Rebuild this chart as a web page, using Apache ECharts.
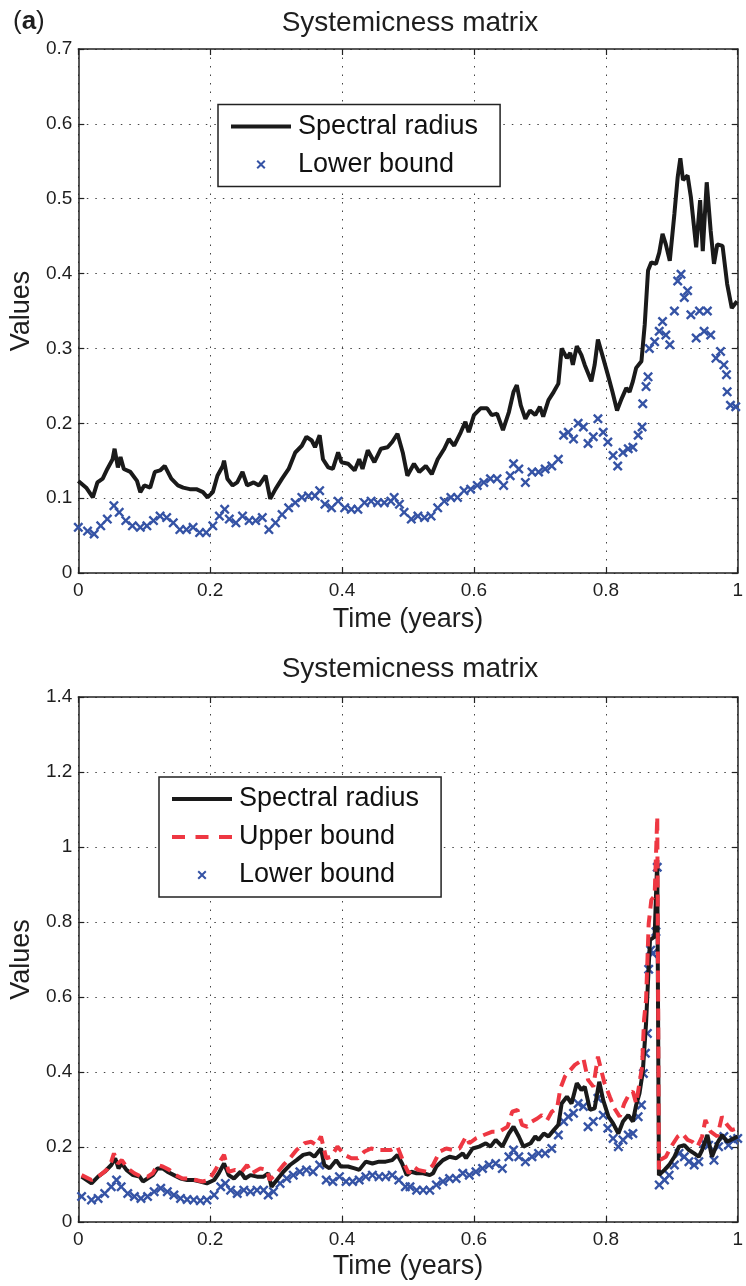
<!DOCTYPE html>
<html>
<head>
<meta charset="utf-8">
<script src="https://cdn.jsdelivr.net/npm/echarts@6/dist/echarts.min.js"></script>
<style>
html,body{margin:0;padding:0;background:#fff;}
#chart{width:746px;height:1286px;}
</style>
</head>
<body>
<div id="chart"></div>
<script>
// ---------------- DATA (time in years, value) ----------------
const xTicks = [0, 0.2, 0.4, 0.6, 0.8, 1];
const topYTicks = [0, 0.1, 0.2, 0.3, 0.4, 0.5, 0.6, 0.7];
const bottomYTicks = [0, 0.2, 0.4, 0.6, 0.8, 1, 1.2, 1.4];

const topSpectral = [[0,0.123],[0.012,0.114],[0.022,0.101],[0.029,0.121],[0.037,0.126],[0.044,0.139],[0.052,0.152],[0.055,0.166],[0.06,0.141],[0.064,0.155],[0.069,0.139],[0.079,0.135],[0.089,0.123],[0.094,0.108],[0.1,0.117],[0.109,0.114],[0.116,0.135],[0.124,0.137],[0.131,0.143],[0.141,0.126],[0.151,0.117],[0.159,0.114],[0.169,0.112],[0.179,0.112],[0.189,0.108],[0.196,0.101],[0.204,0.108],[0.211,0.13],[0.219,0.143],[0.221,0.15],[0.226,0.126],[0.234,0.117],[0.241,0.121],[0.249,0.135],[0.256,0.117],[0.266,0.121],[0.274,0.117],[0.284,0.13],[0.291,0.099],[0.299,0.112],[0.309,0.126],[0.319,0.139],[0.329,0.161],[0.339,0.17],[0.346,0.182],[0.354,0.177],[0.359,0.168],[0.366,0.184],[0.371,0.152],[0.379,0.141],[0.386,0.139],[0.394,0.161],[0.399,0.148],[0.409,0.146],[0.419,0.137],[0.426,0.152],[0.431,0.139],[0.439,0.164],[0.449,0.148],[0.459,0.166],[0.469,0.168],[0.476,0.175],[0.484,0.186],[0.492,0.161],[0.499,0.13],[0.509,0.146],[0.517,0.135],[0.527,0.143],[0.536,0.132],[0.545,0.152],[0.555,0.166],[0.562,0.179],[0.57,0.17],[0.58,0.188],[0.587,0.202],[0.592,0.188],[0.6,0.211],[0.61,0.22],[0.62,0.22],[0.627,0.211],[0.635,0.213],[0.644,0.191],[0.653,0.215],[0.66,0.242],[0.665,0.251],[0.671,0.224],[0.678,0.206],[0.685,0.217],[0.693,0.211],[0.7,0.222],[0.705,0.209],[0.713,0.231],[0.721,0.242],[0.728,0.253],[0.733,0.3],[0.741,0.287],[0.746,0.294],[0.75,0.278],[0.756,0.303],[0.763,0.291],[0.768,0.278],[0.778,0.256],[0.783,0.278],[0.788,0.312],[0.796,0.287],[0.803,0.265],[0.81,0.242],[0.817,0.217],[0.824,0.233],[0.831,0.247],[0.836,0.242],[0.841,0.256],[0.846,0.274],[0.854,0.283],[0.859,0.332],[0.864,0.404],[0.869,0.415],[0.876,0.413],[0.881,0.428],[0.886,0.453],[0.891,0.439],[0.897,0.417],[0.904,0.48],[0.909,0.529],[0.913,0.554],[0.917,0.525],[0.924,0.531],[0.929,0.502],[0.937,0.435],[0.943,0.498],[0.947,0.43],[0.953,0.522],[0.959,0.457],[0.964,0.413],[0.969,0.439],[0.977,0.437],[0.984,0.386],[0.991,0.354],[0.999,0.363]];

const topLower = [[0,0.061],[0.014,0.056],[0.024,0.052],[0.034,0.063],[0.044,0.072],[0.054,0.09],[0.062,0.081],[0.072,0.07],[0.082,0.063],[0.094,0.061],[0.104,0.063],[0.114,0.07],[0.124,0.076],[0.134,0.074],[0.144,0.067],[0.154,0.058],[0.164,0.058],[0.174,0.061],[0.184,0.054],[0.194,0.054],[0.204,0.063],[0.214,0.076],[0.222,0.085],[0.229,0.072],[0.239,0.067],[0.249,0.076],[0.259,0.07],[0.269,0.07],[0.279,0.074],[0.289,0.058],[0.299,0.067],[0.309,0.078],[0.319,0.087],[0.329,0.094],[0.339,0.101],[0.349,0.103],[0.359,0.103],[0.366,0.11],[0.374,0.092],[0.384,0.087],[0.394,0.096],[0.404,0.087],[0.414,0.085],[0.424,0.085],[0.434,0.094],[0.444,0.096],[0.454,0.094],[0.464,0.094],[0.474,0.096],[0.479,0.101],[0.487,0.092],[0.494,0.081],[0.505,0.072],[0.515,0.076],[0.525,0.074],[0.535,0.076],[0.545,0.087],[0.555,0.096],[0.565,0.101],[0.575,0.101],[0.585,0.11],[0.595,0.112],[0.605,0.117],[0.615,0.121],[0.625,0.126],[0.635,0.126],[0.645,0.117],[0.655,0.13],[0.66,0.146],[0.668,0.139],[0.678,0.121],[0.688,0.135],[0.698,0.135],[0.708,0.139],[0.718,0.143],[0.728,0.152],[0.736,0.184],[0.743,0.188],[0.751,0.179],[0.758,0.2],[0.766,0.195],[0.773,0.173],[0.781,0.182],[0.788,0.206],[0.796,0.188],[0.803,0.175],[0.811,0.157],[0.818,0.143],[0.826,0.161],[0.834,0.166],[0.841,0.168],[0.849,0.184],[0.855,0.195],[0.856,0.226],[0.861,0.249],[0.864,0.262],[0.866,0.3],[0.874,0.309],[0.881,0.323],[0.886,0.336],[0.891,0.318],[0.897,0.305],[0.904,0.35],[0.909,0.39],[0.914,0.399],[0.919,0.368],[0.924,0.377],[0.929,0.345],[0.937,0.314],[0.942,0.35],[0.949,0.323],[0.954,0.35],[0.959,0.318],[0.967,0.287],[0.974,0.296],[0.979,0.278],[0.983,0.265],[0.984,0.242],[0.989,0.224],[0.997,0.222]];

const bottomSpectral = [[0.005,0.121],[0.02,0.103],[0.03,0.121],[0.04,0.134],[0.05,0.152],[0.056,0.17],[0.061,0.143],[0.066,0.156],[0.073,0.139],[0.083,0.125],[0.093,0.121],[0.098,0.108],[0.105,0.116],[0.113,0.125],[0.12,0.143],[0.128,0.143],[0.135,0.134],[0.145,0.125],[0.155,0.116],[0.165,0.112],[0.175,0.112],[0.185,0.108],[0.195,0.103],[0.206,0.112],[0.213,0.13],[0.221,0.156],[0.228,0.125],[0.236,0.116],[0.246,0.134],[0.253,0.116],[0.261,0.125],[0.271,0.121],[0.281,0.121],[0.288,0.13],[0.293,0.094],[0.301,0.112],[0.311,0.134],[0.321,0.152],[0.331,0.165],[0.341,0.179],[0.351,0.183],[0.358,0.174],[0.368,0.196],[0.373,0.152],[0.381,0.143],[0.391,0.165],[0.398,0.148],[0.409,0.148],[0.419,0.143],[0.426,0.139],[0.436,0.161],[0.446,0.156],[0.456,0.161],[0.466,0.161],[0.476,0.165],[0.484,0.179],[0.491,0.156],[0.498,0.125],[0.505,0.134],[0.513,0.13],[0.523,0.13],[0.533,0.125],[0.538,0.13],[0.543,0.148],[0.553,0.165],[0.563,0.174],[0.573,0.17],[0.583,0.183],[0.588,0.17],[0.598,0.196],[0.608,0.201],[0.618,0.21],[0.625,0.201],[0.633,0.219],[0.643,0.201],[0.653,0.236],[0.66,0.254],[0.668,0.228],[0.675,0.201],[0.686,0.21],[0.693,0.228],[0.698,0.219],[0.706,0.236],[0.713,0.228],[0.721,0.245],[0.728,0.259],[0.733,0.316],[0.741,0.334],[0.748,0.316],[0.756,0.37],[0.763,0.352],[0.768,0.361],[0.776,0.299],[0.783,0.303],[0.79,0.374],[0.796,0.325],[0.804,0.281],[0.811,0.263],[0.819,0.236],[0.826,0.268],[0.834,0.285],[0.841,0.268],[0.846,0.312],[0.851,0.343],[0.856,0.40],[0.861,0.53],[0.865,0.681],[0.867,0.752],[0.874,0.761],[0.876,0.868],[0.878,0.965],[0.8805,0.125],[0.889,0.139],[0.896,0.152],[0.904,0.174],[0.911,0.201],[0.919,0.205],[0.926,0.192],[0.934,0.183],[0.941,0.174],[0.946,0.192],[0.954,0.232],[0.961,0.174],[0.969,0.21],[0.976,0.232],[0.984,0.214],[0.994,0.223],[1.0,0.228]];

const bottomUpper = [[0.005,0.125],[0.02,0.112],[0.033,0.125],[0.043,0.139],[0.05,0.161],[0.054,0.183],[0.06,0.156],[0.066,0.165],[0.075,0.143],[0.085,0.13],[0.095,0.121],[0.105,0.121],[0.113,0.13],[0.12,0.152],[0.128,0.148],[0.138,0.139],[0.148,0.125],[0.158,0.116],[0.168,0.116],[0.178,0.112],[0.188,0.108],[0.198,0.112],[0.208,0.139],[0.216,0.165],[0.221,0.179],[0.228,0.134],[0.238,0.139],[0.248,0.134],[0.256,0.152],[0.263,0.13],[0.276,0.143],[0.286,0.139],[0.29,0.112],[0.301,0.13],[0.311,0.152],[0.321,0.17],[0.331,0.192],[0.343,0.21],[0.353,0.214],[0.361,0.205],[0.368,0.228],[0.376,0.17],[0.383,0.174],[0.393,0.201],[0.404,0.179],[0.414,0.17],[0.424,0.17],[0.434,0.188],[0.444,0.196],[0.454,0.192],[0.464,0.192],[0.474,0.192],[0.484,0.201],[0.494,0.156],[0.501,0.13],[0.508,0.148],[0.515,0.139],[0.528,0.134],[0.538,0.152],[0.548,0.188],[0.558,0.196],[0.568,0.192],[0.578,0.196],[0.588,0.228],[0.593,0.21],[0.603,0.223],[0.615,0.232],[0.628,0.241],[0.638,0.241],[0.651,0.254],[0.658,0.294],[0.666,0.299],[0.673,0.259],[0.681,0.254],[0.688,0.268],[0.696,0.276],[0.703,0.285],[0.711,0.272],[0.718,0.294],[0.726,0.303],[0.731,0.356],[0.738,0.388],[0.746,0.405],[0.753,0.419],[0.761,0.428],[0.766,0.436],[0.773,0.379],[0.781,0.361],[0.788,0.441],[0.793,0.405],[0.798,0.37],[0.806,0.334],[0.813,0.303],[0.821,0.281],[0.828,0.316],[0.836,0.343],[0.841,0.348],[0.846,0.316],[0.851,0.37],[0.855,0.414],[0.858,0.54],[0.861,0.592],[0.865,0.796],[0.869,0.859],[0.874,0.87],[0.878,1.081],[0.8805,0.14],[0.882,0.165],[0.891,0.174],[0.899,0.201],[0.909,0.228],[0.916,0.236],[0.924,0.219],[0.931,0.214],[0.939,0.201],[0.946,0.228],[0.951,0.272],[0.959,0.241],[0.969,0.228],[0.976,0.281],[0.984,0.259],[0.991,0.245],[1.0,0.25]];

const bottomLower = [[0.005,0.068],[0.02,0.059],[0.03,0.063],[0.04,0.076],[0.05,0.094],[0.058,0.112],[0.065,0.094],[0.075,0.076],[0.085,0.068],[0.095,0.063],[0.105,0.068],[0.115,0.081],[0.125,0.09],[0.135,0.081],[0.145,0.072],[0.155,0.063],[0.165,0.06],[0.175,0.059],[0.185,0.057],[0.195,0.059],[0.206,0.072],[0.216,0.094],[0.223,0.103],[0.231,0.085],[0.241,0.076],[0.251,0.085],[0.261,0.081],[0.271,0.085],[0.281,0.085],[0.288,0.072],[0.296,0.081],[0.306,0.103],[0.316,0.116],[0.326,0.125],[0.336,0.134],[0.346,0.139],[0.356,0.134],[0.366,0.152],[0.376,0.112],[0.386,0.108],[0.396,0.121],[0.406,0.108],[0.416,0.108],[0.426,0.112],[0.436,0.121],[0.446,0.125],[0.456,0.121],[0.466,0.121],[0.476,0.125],[0.486,0.112],[0.496,0.094],[0.503,0.094],[0.513,0.085],[0.523,0.085],[0.533,0.085],[0.543,0.099],[0.553,0.108],[0.563,0.116],[0.573,0.116],[0.583,0.13],[0.593,0.125],[0.603,0.134],[0.613,0.143],[0.623,0.152],[0.633,0.156],[0.643,0.143],[0.653,0.174],[0.66,0.192],[0.668,0.174],[0.678,0.161],[0.688,0.174],[0.698,0.183],[0.708,0.183],[0.718,0.196],[0.728,0.232],[0.736,0.268],[0.743,0.281],[0.751,0.29],[0.758,0.316],[0.766,0.308],[0.773,0.254],[0.781,0.268],[0.788,0.33],[0.796,0.285],[0.803,0.25],[0.811,0.223],[0.819,0.201],[0.826,0.219],[0.834,0.232],[0.841,0.236],[0.849,0.281],[0.854,0.312],[0.857,0.396],[0.86,0.45],[0.863,0.503],[0.865,0.674],[0.868,0.725],[0.871,0.716],[0.876,0.774],[0.878,0.946],[0.881,0.099],[0.889,0.112],[0.896,0.125],[0.904,0.152],[0.911,0.183],[0.919,0.174],[0.926,0.161],[0.934,0.152],[0.941,0.161],[0.949,0.21],[0.956,0.205],[0.964,0.165],[0.971,0.201],[0.979,0.228],[0.986,0.205],[0.994,0.219],[1.0,0.223]];

const titleText = 'Systemicness matrix';
const xName = 'Time (years)';
const yName = 'Values';
const nameSpectral = 'Spectral radius';
const nameUpper = 'Upper bound';
const nameLower = 'Lower bound';

// ---------------- STYLE ----------------
const FONT = '"Liberation Sans", Arial, Helvetica, sans-serif';
const TXT = '#1e1e1e';
const BLACK = '#1a1a1a';
const RED = '#EE3742';
const BLUE = '#3553A5';

function xPath(ox, oy, s, d) {
  const h = s / 2;
  const p = [[ox+d,oy],[ox+h,oy+h-d],[ox+s-d,oy],[ox+s,oy+d],[ox+h+d,oy+h],[ox+s,oy+s-d],
             [ox+s-d,oy+s],[ox+h,oy+h+d],[ox+d,oy+s],[ox,oy+s-d],[ox+h-d,oy+h],[ox,oy+d]];
  return p.map((q,i)=>(i?'L':'M')+q[0].toFixed(2)+','+q[1].toFixed(2)).join(' ')+' Z';
}
function rect(x0, y0, x1, y1) {
  return 'M' + x0 + ',' + y0 + ' L' + x1 + ',' + y0 + ' L' + x1 + ',' + y1 + ' L' + x0 + ',' + y1 + ' Z ';
}
const crossSymbol = 'path://' + xPath(0, 0, 10, 1.7);
const crossLegend = 'path://M0,0 M60,14 ' + xPath(25.5, 2.5, 9, 1.4);
const solidLegend = 'path://M0,0 M60,14 ' + rect(0, 5, 60, 9);
const dashLegend = 'path://M0,0 M60,14 ' + rect(0, 5, 13, 9) + rect(23.5, 5, 36.5, 9) + rect(47, 5, 60, 9);

const grids = [
  {left: 77, top: 49, width: 665, height: 524},
  {left: 77, top: 697, width: 665, height: 525}
];

function xAxes(gi, gap) {
  return [{
    gridIndex: gi, type: 'value', min: xTicks[0], max: xTicks[xTicks.length-1],
    interval: xTicks[1] - xTicks[0], position: 'bottom',
    axisLine: {show: true, onZero: false, lineStyle: {color: '#222', width: 1.5}},
    axisTick: {show: true, inside: true, length: 6, lineStyle: {color: '#222', width: 1.2}},
    axisLabel: {fontSize: 19, color: TXT, margin: 8, fontFamily: FONT},
    splitLine: {show: true, lineStyle: {color: '#444', width: 1, type: [1.5, 7]}},
    name: xName, nameLocation: 'middle', nameGap: gap,
    nameTextStyle: {fontSize: 27, color: TXT, fontFamily: FONT}
  }, {
    gridIndex: gi, type: 'value', min: xTicks[0], max: xTicks[xTicks.length-1],
    interval: xTicks[1] - xTicks[0], position: 'top',
    axisLine: {show: true, onZero: false, lineStyle: {color: '#222', width: 1.5}},
    axisTick: {show: true, inside: true, length: 6, lineStyle: {color: '#222', width: 1.2}},
    axisLabel: {show: false}, splitLine: {show: false}
  }];
}
function yAxes(gi, ticks) {
  const base = {
    gridIndex: gi, type: 'value', min: ticks[0], max: ticks[ticks.length-1],
    interval: ticks[1] - ticks[0]
  };
  return [Object.assign({}, base, {
    position: 'left',
    axisLine: {show: true, onZero: false, lineStyle: {color: '#222', width: 1.5}},
    axisTick: {show: true, inside: true, length: 6, lineStyle: {color: '#222', width: 1.2}},
    axisLabel: {fontSize: 19, color: TXT, margin: 6, fontFamily: FONT},
    splitLine: {show: true, lineStyle: {color: '#444', width: 1, type: [1.5, 7]}},
    name: yName, nameLocation: 'middle', nameGap: 41, nameRotate: 90,
    nameTextStyle: {fontSize: 27, color: TXT, fontFamily: FONT}
  }), Object.assign({}, base, {
    position: 'right',
    axisLine: {show: true, onZero: false, lineStyle: {color: '#222', width: 1.5}},
    axisTick: {show: true, inside: true, length: 6, lineStyle: {color: '#222', width: 1.2}},
    axisLabel: {show: false}, splitLine: {show: false}
  })];
}

function lineSeries(name, data, xi, yi, color, type) {
  return {
    name: name, type: 'line', data: data, xAxisIndex: xi, yAxisIndex: yi,
    symbol: 'none', showSymbol: false, smooth: false, clip: true,
    lineStyle: {color: color, width: 4, type: type || 'solid'},
    itemStyle: {color: color}
  };
}
function crossSeries(name, data, xi, yi) {
  return {
    name: name, type: 'scatter', data: data, xAxisIndex: xi, yAxisIndex: yi,
    symbol: crossSymbol, symbolSize: 10, itemStyle: {color: BLUE, opacity: 1}
  };
}

const legendBase = {
  orient: 'vertical', itemWidth: 60, itemHeight: 14, itemGap: 8,
  padding: [7, 22, 7, 13], borderColor: '#222', borderWidth: 1.5,
  backgroundColor: '#fff', selectedMode: false,
  textStyle: {fontSize: 27, lineHeight: 30, color: '#111', fontFamily: FONT, padding: [0, 0, 0, 2]}
};

const option = {
  animation: false,
  backgroundColor: '#fff',
  grid: grids,
  xAxis: xAxes(0, 33).concat(xAxes(1, 31)),
  yAxis: yAxes(0, topYTicks).concat(yAxes(1, bottomYTicks)),
  legend: [
    Object.assign({}, legendBase, {left: 218, top: 104.5,
      data: [{name: nameSpectral, icon: solidLegend, itemStyle: {color: BLACK}},
             {name: nameLower, icon: crossLegend, itemStyle: {color: BLUE}}]}),
    Object.assign({}, legendBase, {left: 159, top: 777,
      data: [{name: nameSpectral, icon: solidLegend, itemStyle: {color: BLACK}},
             {name: nameUpper, icon: dashLegend, itemStyle: {color: RED}},
             {name: nameLower, icon: crossLegend, itemStyle: {color: BLUE}}]})
  ],
  graphic: [
    {type: 'text', x: 410, y: 23, style: {text: titleText, fontSize: 28, fontFamily: FONT, fill: TXT, textAlign: 'center', textVerticalAlign: 'middle'}},
    {type: 'text', x: 410, y: 669, style: {text: titleText, fontSize: 28, fontFamily: FONT, fill: TXT, textAlign: 'center', textVerticalAlign: 'middle'}},
    {type: 'text', x: 13, y: 22, style: {text: '({b|a})', fontSize: 26, fontFamily: FONT, fill: TXT, textVerticalAlign: 'middle',
      rich: {b: {fontSize: 26, fontWeight: 'bold', fontFamily: FONT, fill: TXT}}}}
  ],
  series: [
    lineSeries(nameSpectral, topSpectral, 0, 0, BLACK),
    crossSeries(nameLower, topLower, 0, 0),
    lineSeries(nameSpectral, bottomSpectral, 2, 2, BLACK),
    lineSeries(nameUpper, bottomUpper, 2, 2, RED, [12, 7]),
    crossSeries(nameLower, bottomLower, 2, 2)
  ]
};

const chart = echarts.init(document.getElementById('chart'), null, {renderer: 'canvas'});
chart.setOption(option);
</script>
</body>
</html>
